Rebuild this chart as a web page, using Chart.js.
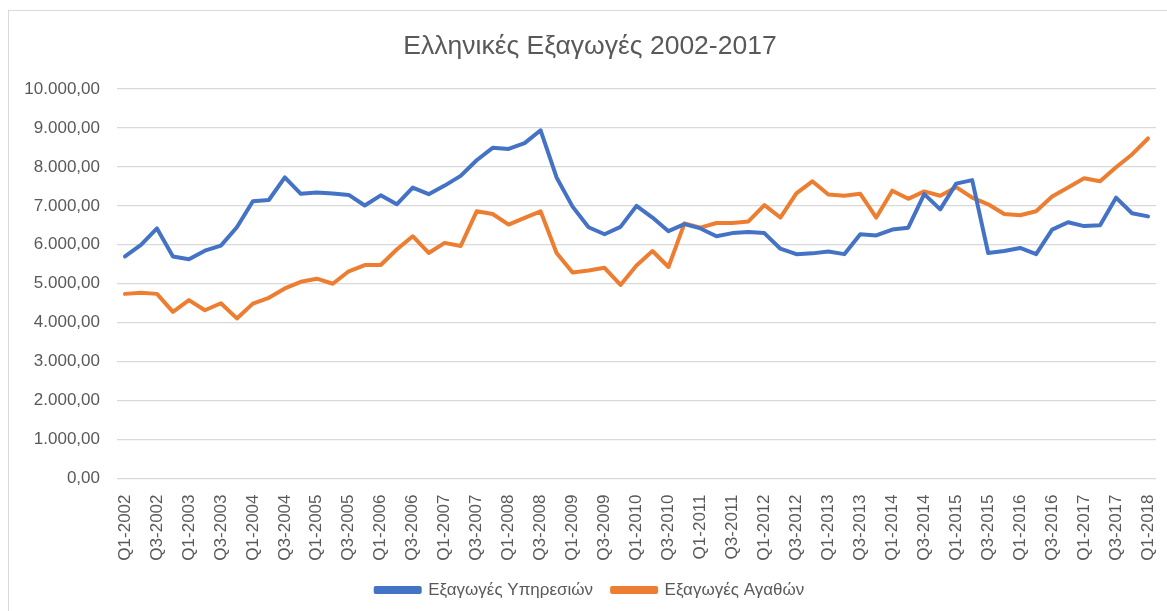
<!DOCTYPE html>
<html>
<head>
<meta charset="utf-8">
<title>Ελληνικές Εξαγωγές 2002-2017</title>
<script src="https://cdn.jsdelivr.net/npm/chart.js@4"></script>
<style>
  html, body { margin: 0; padding: 0; background: #fff; overflow: hidden; }
  #wrap { position: relative; width: 1167px; height: 611px; }
  #frame {
    position: absolute; left: 8px; top: 10px; width: 1300px; height: 800px;
    border: 1px solid #d9d9d9; box-sizing: border-box; pointer-events: none;
  }
  canvas { position: absolute; left: 0; top: 0; }
</style>
</head>
<body>
<div id="wrap">
  <div id="frame"></div>
  <canvas id="chart" width="1167" height="611"></canvas>
</div>
<script>
// --- Data (quarterly, Q1-2002 .. Q1-2018) ---
const QUARTERS = [
  'Q1-2002','Q2-2002','Q3-2002','Q4-2002',
  'Q1-2003','Q2-2003','Q3-2003','Q4-2003',
  'Q1-2004','Q2-2004','Q3-2004','Q4-2004',
  'Q1-2005','Q2-2005','Q3-2005','Q4-2005',
  'Q1-2006','Q2-2006','Q3-2006','Q4-2006',
  'Q1-2007','Q2-2007','Q3-2007','Q4-2007',
  'Q1-2008','Q2-2008','Q3-2008','Q4-2008',
  'Q1-2009','Q2-2009','Q3-2009','Q4-2009',
  'Q1-2010','Q2-2010','Q3-2010','Q4-2010',
  'Q1-2011','Q2-2011','Q3-2011','Q4-2011',
  'Q1-2012','Q2-2012','Q3-2012','Q4-2012',
  'Q1-2013','Q2-2013','Q3-2013','Q4-2013',
  'Q1-2014','Q2-2014','Q3-2014','Q4-2014',
  'Q1-2015','Q2-2015','Q3-2015','Q4-2015',
  'Q1-2016','Q2-2016','Q3-2016','Q4-2016',
  'Q1-2017','Q2-2017','Q3-2017','Q4-2017',
  'Q1-2018'
];

const SERVICES = [
  5700, 6000, 6420, 5700, 5630, 5850, 5980, 6450,
  7120, 7150, 7730, 7310, 7340, 7320, 7280, 7010,
  7270, 7040, 7470, 7300, 7520, 7770, 8170, 8490,
  8460, 8610, 8940, 7730, 6980, 6450, 6270, 6460,
  7000, 6700, 6350, 6530, 6420, 6220, 6300, 6330,
  6300, 5900, 5760, 5780, 5830, 5760, 6270, 6240,
  6390, 6440, 7300, 6910, 7570, 7660, 5790, 5840,
  5920, 5760, 6390, 6580, 6480, 6500, 7210, 6810,
  6730
];

const GOODS = [
  4740, 4770, 4740, 4280, 4580, 4320, 4500, 4110,
  4490, 4640, 4880, 5050, 5130, 5000, 5320, 5480,
  5480, 5880, 6220, 5790, 6050, 5970, 6860, 6790,
  6520, 6690, 6860, 5790, 5290, 5340, 5410, 4970,
  5470, 5840, 5430, 6550, 6440, 6560, 6560, 6600,
  7020, 6700, 7320, 7630, 7290, 7260, 7310, 6700,
  7390, 7180, 7370, 7260, 7480, 7210, 7040, 6790,
  6760, 6860, 7240, 7470, 7710, 7630, 7990, 8320,
  8730
];

const SERIES_NAMES = ['Εξαγωγές Υπηρεσιών', 'Εξαγωγές Αγαθών'];
const Y_MIN = 0, Y_MAX = 10000, Y_STEP = 1000;

/* ------------------------------------------------------------------ */
const BLUE   = '#4472c4';
const ORANGE = '#ed7d31';
const TEXT   = '#595959';
const GRID   = '#d9d9d9';
const FONT   = '"Liberation Sans", Arial, sans-serif';

// 10000 -> "10.000,00"
function fmtGreek(v) {
  const int = Math.round(v).toString().replace(/\B(?=(\d{3})+(?!\d))/g, '.');
  return int + ',00';
}

function lineSet(label, data, color) {
  return {
    label, data,
    borderColor: color,
    backgroundColor: color,
    borderWidth: 4,
    pointRadius: 0,
    pointHoverRadius: 0,
    tension: 0,
    borderCapStyle: 'round',
    borderJoinStyle: 'round',
  };
}

new Chart(document.getElementById('chart'), {
  type: 'line',
  data: {
    labels: QUARTERS,
    datasets: [
      lineSet(SERIES_NAMES[0], SERVICES, BLUE),
      lineSet(SERIES_NAMES[1], GOODS, ORANGE),
    ]
  },
  options: {
    responsive: false,
    animation: false,
    events: [],
    layout: { padding: { left: 24, right: 11, top: 0, bottom: 2.5 } },
    plugins: {
      title: {
        display: true,
        text: 'Ελληνικές Εξαγωγές 2002-2017',
        color: TEXT,
        font: { family: FONT, size: 26.5, weight: 'normal', lineHeight: 1.2 },
        padding: { top: 31, bottom: 26.2 },
      },
      legend: {
        position: 'bottom',
        labels: {
          color: TEXT,
          font: { family: FONT, size: 17 },
          boxWidth: 44,
          boxHeight: 4,
          padding: 19,
        }
      },
      tooltip: { enabled: false },
    },
    scales: {
      x: {
        offset: true,
        grid: { display: false },
        border: { display: false },
        ticks: {
          color: TEXT,
          font: { family: FONT, size: 17 },
          autoSkip: false,
          minRotation: 90,
          maxRotation: 90,
          padding: 8,
          callback: (v, i) => i % 2 === 0 ? QUARTERS[i] : null,
        },
        afterFit: s => {
          s.height = 84;
          // labels sit inside the offset half-category, no extra side padding
          s.paddingLeft = 0;
          s.paddingRight = 0;
        },
      },
      y: {
        min: Y_MIN,
        max: Y_MAX,
        grid: { color: GRID, lineWidth: 1.3, drawTicks: false },
        border: { display: false },
        ticks: {
          stepSize: Y_STEP,
          color: TEXT,
          font: { family: FONT, size: 17 },
          padding: 17,
          callback: v => fmtGreek(v),
        },
        afterFit: s => { s.width = 93; },
      }
    }
  }
});
</script>
</body>
</html>
